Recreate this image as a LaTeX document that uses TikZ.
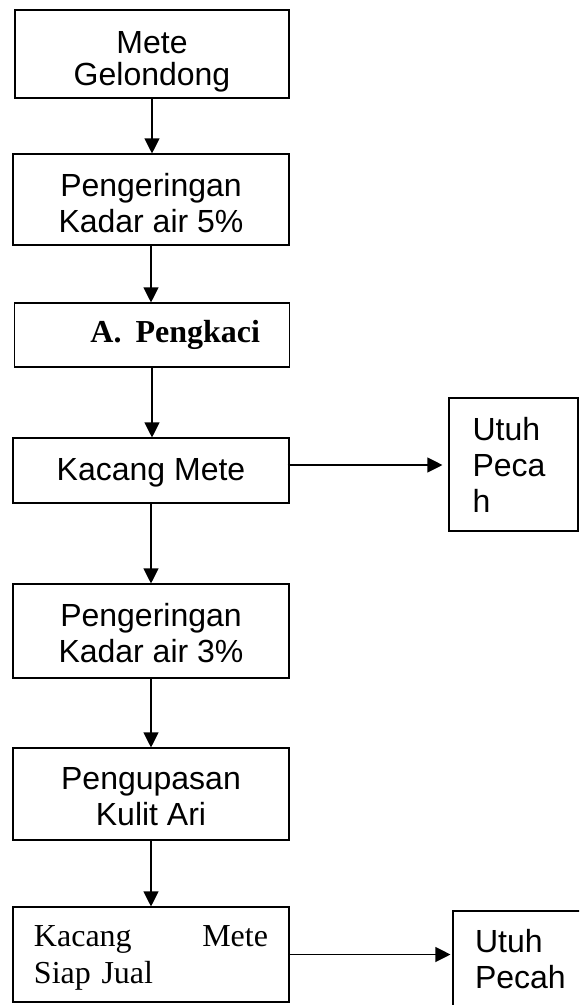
\documentclass[tikz,border=0pt]{standalone}
\usepackage{fontspec}
\setmainfont{Liberation Sans}
\newfontfamily\timesfont{Liberation Serif}
\usetikzlibrary{arrows.meta}

\begin{document}
\begin{tikzpicture}[x=1pt, y=-1pt,
    kotak/.style={draw, line width=1.1pt, inner sep=0pt, align=center,
      font=\fontsize{32}{36}\selectfont},
    panah/.style={-{Triangle[width=15pt,length=15pt]}, line width=1.1pt}]
  \clip (0,0) rectangle (579,1005);
  % alur utama
  \node[kotak, minimum width=274pt, minimum height=88pt,
    font=\fontsize{32}{32}\selectfont] (mete) at (152,54)
    {\rule{0pt}{37pt}Mete\\Gelondong};
  \node[kotak, minimum width=276pt, minimum height=91pt] (kering1) at (151,199.5)
    {\rule{0pt}{30.8pt}Pengeringan\\Kadar air 5\%};
  \node[kotak, minimum width=275pt, minimum height=64pt, text width=216pt, align=right,
    font=\timesfont\bfseries\fontsize{32}{36}\selectfont] (kaci) at (152,335)
    {A.\hspace{14pt}Pengkaci};
  \node[kotak, minimum width=276pt, minimum height=65pt] (kacang) at (151,470.5)
    {\rule{0pt}{27.1pt}Kacang Mete};
  \node[kotak, minimum width=276pt, minimum height=94pt] (kering2) at (151,631)
    {\rule{0pt}{27.8pt}Pengeringan\\Kadar air 3\%};
  \node[kotak, minimum width=276pt, minimum height=92pt] (kupas) at (151,794)
    {\rule{0pt}{28pt}Pengupasan\\Kulit Ari};
  \node[kotak, minimum width=276pt, minimum height=95pt, text width=234pt, align=left,
    font=\timesfont\fontsize{32}{36.6}\selectfont] (siap) at (151,954.5)
    {\rule{0pt}{27.9pt}Kacang\hfill Mete\\Siap Jual};
  % hasil
  \node[kotak, minimum width=129pt, minimum height=133pt, text width=82pt, align=left]
    (hasil1) at (513.5,464.5) {Utuh\\Peca\\h};
  \node[kotak, minimum width=180pt, minimum height=96.5pt, text width=136pt, align=left]
    (hasil2) at (543,959.25) {Utuh\\Pecah};
  % panah
  \foreach \a/\b in {mete/kering1, kering1/kaci, kaci/kacang, kacang/kering2,
      kering2/kupas, kupas/siap}
    \draw[panah] (\a.south) -- (\a.south |- \b.north);
  \draw[panah, shorten >=6pt] ([xshift=-2pt, yshift=5.5pt]kacang.east)
    -- ([yshift=5.5pt]kacang.east -| hasil1.west);
  \draw[panah, shorten >=2pt] (siap.east) -- (siap.east -| hasil2.west);
\end{tikzpicture}
\end{document}
